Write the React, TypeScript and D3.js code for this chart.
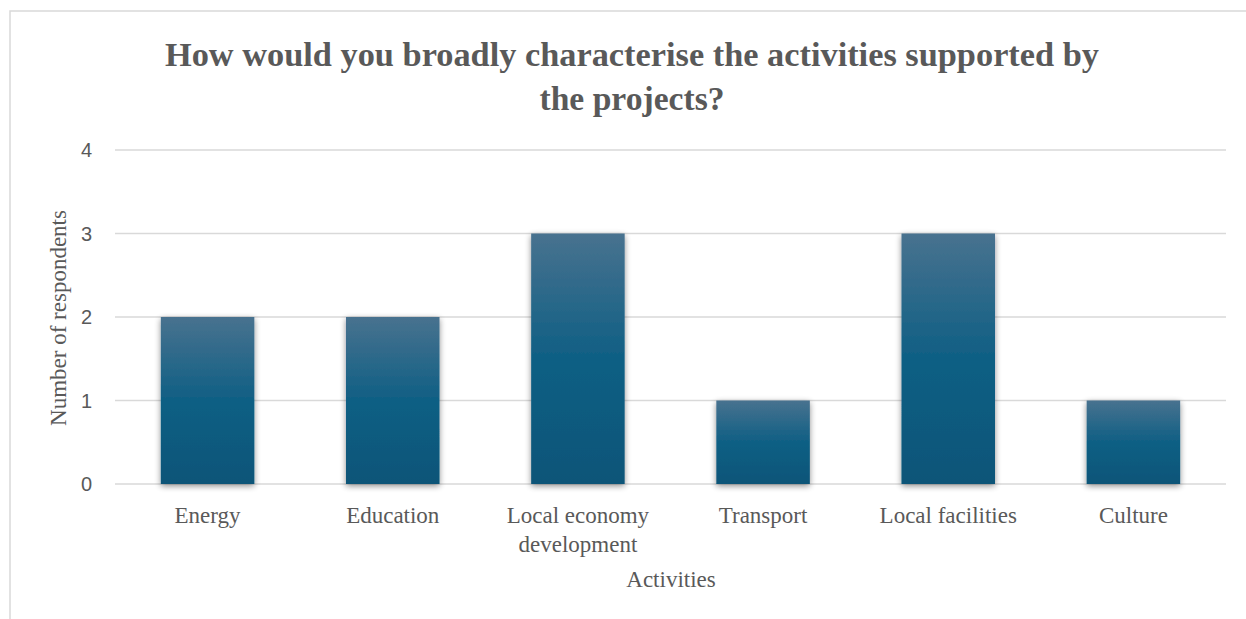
import React from "react";
import * as d3 from "d3";

const categories: string[][] = [
  ["Energy"],
  ["Education"],
  ["Local economy", "development"],
  ["Transport"],
  ["Local facilities"],
  ["Culture"],
];
const values: number[] = [2, 2, 3, 1, 3, 1];
const yTicks: number[] = [0, 1, 2, 3, 4];
const titleLines: string[] = [
  "How would you broadly characterise the activities supported by",
  "the projects?",
];
const yTitle = "Number of respondents";
const xTitle = "Activities";

const W = 1246;
const H = 619;
const left = 115;
const right = 1226;
const top = 150;
const bottom = 484;
const serif = "'Liberation Serif', 'DejaVu Serif', serif";
const sans = "'Liberation Sans', Arial, sans-serif";
const textColor = "#595959";

export default function App() {
  const x = d3
    .scaleBand<number>()
    .domain(values.map((_, i) => i))
    .range([left, right])
    .paddingInner(0.495)
    .paddingOuter(0.2475);
  const y = d3.scaleLinear().domain([0, 4]).range([bottom, top]);

  return (
    <svg
      width={W}
      height={H}
      style={{ position: "absolute", left: 0, top: 0, display: "block" }}
    >
      <defs>
        <linearGradient id="barGrad" x1="0" y1="0" x2="0" y2="1">
          <stop offset="0%" stopColor="#48728f" />
          <stop offset="50%" stopColor="#0f5f84" />
          <stop offset="100%" stopColor="#0a5578" />
        </linearGradient>
        <filter id="shadow" x="-20%" y="-10%" width="140%" height="125%">
          <feGaussianBlur in="SourceAlpha" stdDeviation="3" />
          <feOffset dx="0" dy="2" result="blur" />
          <feComponentTransfer>
            <feFuncA type="linear" slope="0.45" />
          </feComponentTransfer>
          <feMerge>
            <feMergeNode />
            <feMergeNode in="SourceGraphic" />
          </feMerge>
        </filter>
      </defs>
      <rect x={0} y={0} width={W} height={H} fill="#ffffff" />
      <rect
        x={10}
        y={11}
        width={W + 20}
        height={H + 20}
        fill="none"
        stroke="#d9d9d9"
        strokeWidth={1.5}
      />
      <text
        x={632}
        y={66}
        textAnchor="middle"
        fontFamily={serif}
        fontWeight="bold"
        fontSize={33}
        fill={textColor}
        textLength={934}
        lengthAdjust="spacingAndGlyphs"
      >
        {titleLines[0]}
      </text>
      <text
        x={632}
        y={110}
        textAnchor="middle"
        fontFamily={serif}
        fontWeight="bold"
        fontSize={33}
        fill={textColor}
        textLength={185}
        lengthAdjust="spacingAndGlyphs"
      >
        {titleLines[1]}
      </text>
      {yTicks.map((t) => (
        <g key={t}>
          <line
            x1={left}
            x2={right}
            y1={y(t)}
            y2={y(t)}
            stroke="#d9d9d9"
            strokeWidth={1.5}
          />
          <text
            x={92}
            y={y(t) + 7}
            textAnchor="end"
            fontFamily={sans}
            fontSize={20}
            fill={textColor}
          >
            {t}
          </text>
        </g>
      ))}
      {values.map((v, i) => (
        <rect
          key={i}
          x={x(i)}
          y={y(v)}
          width={x.bandwidth()}
          height={y(0) - y(v)}
          fill="url(#barGrad)"
          filter="url(#shadow)"
        />
      ))}
      {categories.map((lines, i) =>
        lines.map((l, j) => (
          <text
            key={l}
            x={(x(i) as number) + x.bandwidth() / 2}
            y={523 + j * 29}
            textAnchor="middle"
            fontFamily={serif}
            fontSize={23}
            fill={textColor}
          >
            {l}
          </text>
        ))
      )}
      <text
        x={671}
        y={587}
        textAnchor="middle"
        fontFamily={serif}
        fontSize={23}
        fill={textColor}
      >
        {xTitle}
      </text>
      <text
        transform={`translate(66, ${318}) rotate(-90)`}
        textAnchor="middle"
        fontFamily={serif}
        fontSize={23}
        fill={textColor}
      >
        {yTitle}
      </text>
    </svg>
  );
}
